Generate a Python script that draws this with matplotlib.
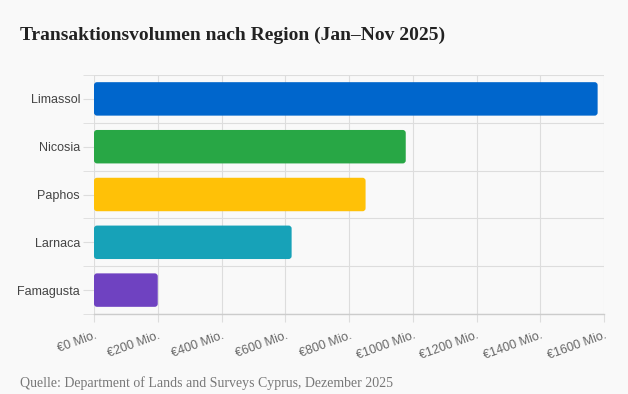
import matplotlib
matplotlib.use("Agg")
import matplotlib.pyplot as plt
from matplotlib.patches import FancyBboxPatch

regions = ["Limassol", "Nicosia", "Paphos", "Larnaca", "Famagusta"]
values = [1580, 978, 852, 620, 200]
colors = ["#0066cc", "#28a745", "#ffc107", "#17a2b8", "#6f42c1"]
xticks = [0, 200, 400, 600, 800, 1000, 1200, 1400, 1600]
xticklabels = [f"€{v} Mio." for v in xticks]
title = "Transaktionsvolumen nach Region (Jan–Nov 2025)"
source = "Quelle: Department of Lands and Surveys Cyprus, Dezember 2025"

W, H = 628, 394
fig = plt.figure(figsize=(W/100, H/100), dpi=100)
fig.patch.set_facecolor("#f9f9f9")
L, R, T, B = 94, 604, 75, 314
ax = fig.add_axes([L/W, 1-B/H, (R-L)/W, (B-T)/H])
ax.set_facecolor("#f9f9f9")

ypos = list(range(len(regions)))
bars = ax.barh(ypos, values, height=0.7, color=colors)
ax.set_xlim(0, 1600)
ax.set_ylim(len(regions)-0.5, -0.5)

# rounded corners
xu_per_px = 1600/(R-L)
yu_per_px = len(regions)/(B-T)
rad_px = 3
for b, c in zip(bars, colors):
    b.set_visible(False)
    p = FancyBboxPatch((b.get_x(), b.get_y()), b.get_width(), b.get_height(),
                       boxstyle=f"round,pad=0,rounding_size={rad_px*xu_per_px}",
                       mutation_aspect=yu_per_px/xu_per_px,
                       facecolor=c, edgecolor="none", zorder=3)
    ax.add_patch(p)

ax.set_yticks(ypos)
ax.set_yticklabels(regions, fontsize=9, color="#444444", family="Liberation Sans")
ax.set_xticks(xticks)
ax.set_xticklabels(xticklabels, fontsize=9, color="#666666", rotation=20,
                   ha="right", rotation_mode="anchor", family="Liberation Sans")
ax.tick_params(axis="y", length=8, color="#dddddd", pad=2)
ax.tick_params(axis="x", length=6, color="#dddddd", pad=5)

# grid
ax.set_yticks([i+0.5 for i in range(-1, len(regions))], minor=True)
ax.tick_params(axis="y", which="minor", length=8, color="#dddddd")
ax.grid(axis="x", color="#dddddd", linewidth=0.8, zorder=0)
ax.grid(axis="y", which="minor", color="#dddddd", linewidth=0.8, zorder=0)
ax.set_axisbelow(True)
for s in ["top", "right", "left"]:
    ax.spines[s].set_visible(False)
ax.spines["bottom"].set_color("#cccccc")
ax.spines["bottom"].set_linewidth(1)

fig.text(20/W, 1-35/H, title, fontsize=14, fontweight="bold", color="#222222",
         family="Liberation Serif", va="center", ha="left")
fig.text(20/W, 1-383/H, source, fontsize=10, color="#777777",
         family="Liberation Serif", va="center", ha="left")

fig.savefig("out.png", dpi=100, facecolor=fig.get_facecolor())
